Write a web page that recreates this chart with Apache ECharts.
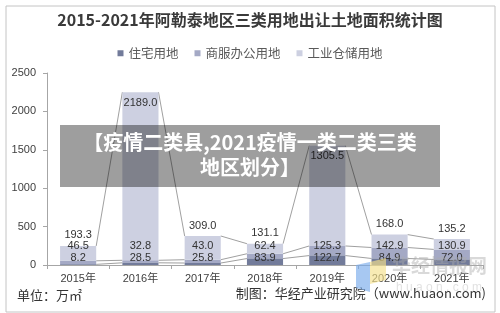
<!DOCTYPE html>
<html>
<head>
<meta charset="utf-8">
<script src="https://cdn.jsdelivr.net/npm/echarts@6/dist/echarts.min.js"></script>
<style>
html,body{margin:0;padding:0;background:#fff;}
#chart{width:500px;height:313px;}
</style>
</head>
<body>
<div id="chart"></div>
<script>
const categories = ['2015年', '2016年', '2017年', '2018年', '2019年', '2020年', '2021年'];
const residential = [8.2, 28.5, 25.8, 83.9, 122.7, 84.9, 72.0];
const commercial = [46.5, 32.8, 43.0, 62.4, 125.3, 142.9, 130.9];
const industrial = [193.3, 2189.0, 309.0, 131.1, 1305.5, 168.0, 135.2];
const seriesNames = ['住宅用地', '商服办公用地', '工业仓储用地'];
const yMin = 0, yMax = 2500, yInterval = 500;

const FONT = "'Liberation Sans','Noto Sans CJK SC',sans-serif";
const colors = ['#727b9a', '#a4a9c5', '#cdd0e1'];
const BAR_RATIO = 0.58;

// cumulative levels for series lines
const levels = [];
let acc = categories.map(() => 0);
[residential, commercial, industrial].forEach(arr => {
  acc = acc.map((v, i) => v + arr[i]);
  levels.push(acc.slice());
});
const lineData = [];
levels.forEach(lv => {
  for (let i = 0; i < lv.length - 1; i++) lineData.push([i, lv[i], lv[i + 1]]);
});

const chart = echarts.init(document.getElementById('chart'), null, {renderer: 'canvas'});
const option = {
  animation: false,
  backgroundColor: '#fff',
  textStyle: {fontFamily: FONT},
  title: {
    text: '2015-2021年阿勒泰地区三类用地出让土地面积统计图',
    left: 'center', top: 7,
    textStyle: {fontFamily: "'Noto Sans CJK SC',sans-serif", fontSize: 16, fontWeight: 'bold', color: '#3a3a3a'}
  },
  legend: {
    data: seriesNames,
    top: 42, left: 'center',
    icon: 'rect', itemWidth: 6, itemHeight: 6, itemGap: 16,
    textStyle: {fontFamily: "'Noto Sans CJK SC',sans-serif", fontSize: 12.5, color: '#595959'}
  },
  grid: {left: 47, right: 17, top: 73, bottom: 48},
  xAxis: {
    type: 'category', data: categories,
    axisLine: {lineStyle: {color: '#a6a6a6'}},
    axisTick: {show: true, length: 4, lineStyle: {color: '#a6a6a6'}},
    axisLabel: {fontSize: 11, color: '#404040', margin: 8, fontFamily: FONT}
  },
  yAxis: {
    type: 'value', min: yMin, max: yMax, interval: yInterval,
    axisLine: {show: true, lineStyle: {color: '#a6a6a6'}},
    axisTick: {show: true, length: 4, lineStyle: {color: '#a6a6a6'}},
    splitLine: {show: false},
    axisLabel: {fontSize: 11, color: '#404040', margin: 11, fontFamily: FONT, formatter: v => String(v)}
  },
  series: [
    {
      name: seriesNames[0], type: 'bar', stack: 'total', barWidth: (BAR_RATIO * 100) + '%',
      data: residential, itemStyle: {color: colors[0]}, z: 4,
      label: {
        show: true, position: 'insideBottom', distance: 1,
        fontSize: 11, lineHeight: 12, color: '#333', fontFamily: FONT,
        formatter: p => commercial[p.dataIndex].toFixed(1) + '\n' + residential[p.dataIndex].toFixed(1)
      }
    },
    {
      name: seriesNames[1], type: 'bar', stack: 'total', barWidth: (BAR_RATIO * 100) + '%',
      data: commercial, itemStyle: {color: colors[1]}, z: 3
    },
    {
      name: seriesNames[2], type: 'bar', stack: 'total', barWidth: (BAR_RATIO * 100) + '%',
      data: industrial.map(v => ({
        value: v,
        label: {position: v > 1000 ? 'insideTop' : 'top'}
      })),
      itemStyle: {color: colors[2]}, z: 3,
      label: {show: true, distance: 5, fontSize: 11, color: '#333', fontFamily: FONT,
        formatter: p => Number(p.value).toFixed(1)}
    },
    {
      name: 'serieslines', type: 'custom', data: lineData, z: 2, silent: true,
      encode: {x: 0, y: [1, 2]},
      renderItem: (params, api) => {
        const i = api.value(0);
        const p1 = api.coord([i, api.value(1)]);
        const p2 = api.coord([i + 1, api.value(2)]);
        const hw = api.size([1, 0])[0] * BAR_RATIO / 2;
        return {
          type: 'line',
          shape: {x1: p1[0] + hw, y1: p1[1], x2: p2[0] - hw, y2: p2[1]},
          style: {stroke: '#a0a0a0', lineWidth: 1}
        };
      }
    }
  ],
  graphic: [
    {type: 'rect', left: 3.5, top: 3.5, shape: {width: 489, height: 306}, style: {fill: 'none', stroke: '#c4c4c4', lineWidth: 1}, z: 0, silent: true},
    {type: 'text', left: 17, top: 289, style: {text: '单位：万㎡', fontSize: 13, fill: '#333', fontFamily: "'Noto Sans CJK SC',sans-serif"}, z: 10},
    {type: 'text', right: 14, top: 287, style: {text: '制图：华经产业研究院（www.huaon.com)', fontSize: 13, fill: '#333', fontFamily: "'Noto Sans CJK SC',sans-serif"}, z: 10},
    // watermark logo
    {type: 'polygon', shape: {points: [[356, 265], [370, 262], [370, 292], [356, 288]]}, style: {fill: 'rgba(120,170,235,0.65)'}, z: 20, silent: true},
    {type: 'polygon', shape: {points: [[370, 262], [386, 258], [386, 280], [370, 284]]}, style: {fill: 'rgba(245,225,140,0.65)'}, z: 20, silent: true},
    {type: 'text', left: 392, top: 256, style: {text: '华经情报网', fontSize: 19, fontWeight: 'bold', fill: 'rgba(170,170,170,0.45)', fontFamily: "'Noto Sans CJK SC',sans-serif"}, z: 20, silent: true},
    {type: 'text', left: 396, top: 282, style: {text: 'h u a o n . c o m', fontSize: 12, fill: 'rgba(170,170,170,0.35)', fontFamily: FONT}, z: 20, silent: true},
    // overlay banner
    {type: 'rect', left: 60, top: 125, shape: {width: 380, height: 62}, style: {fill: '#9e9e9e', blend: 'multiply'}, z: 30, silent: true},
    {type: 'text', left: 'center', top: 132, style: {text: '【疫情二类县,2021疫情一类二类三类', fontSize: 20, fontWeight: 'bold', fill: '#fff', fontFamily: "'Noto Sans CJK SC',sans-serif"}, z: 31, silent: true},
    {type: 'text', left: 'center', top: 157, style: {text: '地区划分】', fontSize: 20, fontWeight: 'bold', fill: '#fff', fontFamily: "'Noto Sans CJK SC',sans-serif"}, z: 31, silent: true}
  ]
};
chart.setOption(option);
</script>
</body>
</html>
